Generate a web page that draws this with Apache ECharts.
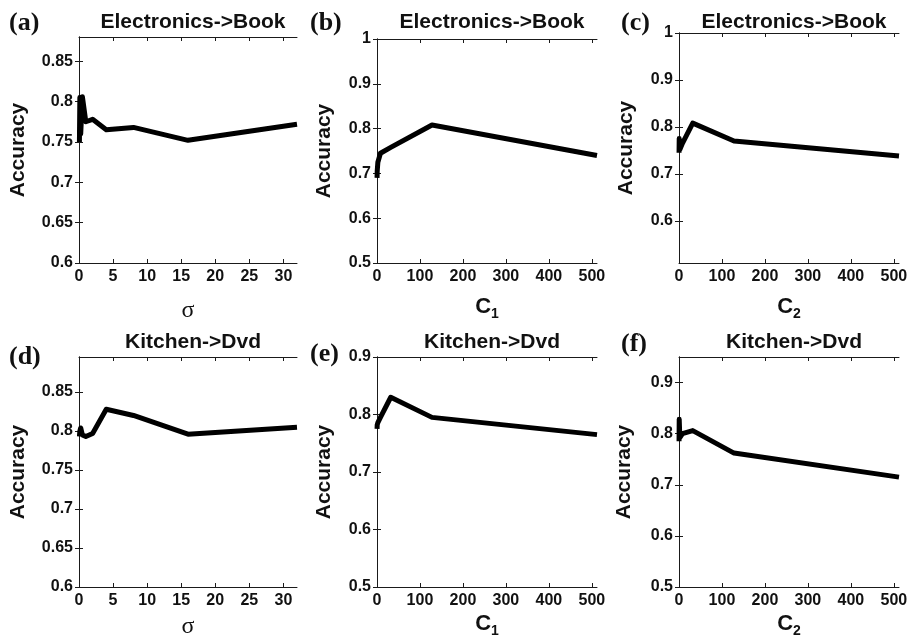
<!DOCTYPE html>
<html><head><meta charset="utf-8">
<script src="https://cdn.jsdelivr.net/npm/echarts@6/dist/echarts.min.js"></script>
<style>html,body{margin:0;padding:0;background:#fff}#c{width:917px;height:640px}</style>
</head><body><div id="c"></div>
<script>
// ---- data ----
const sigma = [0.0625, 0.125, 0.25, 0.5, 1, 2, 4, 8, 16, 32];
const cVals = [0.125, 0.5, 2, 8, 32, 128, 512];
const accA = [0.750, 0.805, 0.760, 0.806, 0.775, 0.778, 0.765, 0.768, 0.752, 0.772];
const accB = [0.690, 0.705, 0.725, 0.745, 0.758, 0.808, 0.740];
const accC = [0.745, 0.775, 0.752, 0.765, 0.808, 0.770, 0.738];
const accD = [0.793, 0.800, 0.804, 0.795, 0.793, 0.797, 0.828, 0.820, 0.796, 0.805];
const accE = [0.775, 0.782, 0.786, 0.795, 0.830, 0.795, 0.765];
const accF = [0.785, 0.828, 0.792, 0.800, 0.806, 0.762, 0.715];
const titles = ['Electronics->Book','Electronics->Book','Electronics->Book','Kitchen->Dvd','Kitchen->Dvd','Kitchen->Dvd'];
const tags = ['(a)','(b)','(c)','(d)','(e)','(f)'];
const sigmaTicks = [0, 5, 10, 15, 20, 25, 30];
const cTicks = [0, 100, 200, 300, 400, 500];
const yTicksA = [0.6, 0.65, 0.7, 0.75, 0.8, 0.85];
const yTicksB = [0.5, 0.6, 0.7, 0.8, 0.9, 1];
const yTicksC = [0.6, 0.7, 0.8, 0.9, 1];
const yTicksD = [0.6, 0.65, 0.7, 0.75, 0.8, 0.85];
const yTicksE = [0.5, 0.6, 0.7, 0.8, 0.9];
const yTicksF = [0.5, 0.6, 0.7, 0.8, 0.9];

// ---- panels ----
const panels = [
  {x: sigma, y: accA, xt: sigmaTicks, xr: [0, 32], yt: yTicksA, yr: [0.6, 0.88], name: 'sigma',
   g: {left: 79, top: 37, width: 218, height: 226}, yGap: 50, xGap: 36, tagPos: [4, 5], tTop: 7},
  {x: cVals, y: accB, xt: cTicks, xr: [0, 512], yt: yTicksB, yr: [0.5, 1], name: 'C1',
   g: {left: 377, top: 39, width: 220, height: 224}, yGap: 42, xGap: 30, tagPos: [305, 5], tTop: 7},
  {x: cVals, y: accC, xt: cTicks, xr: [0, 512], yt: yTicksC, yr: [0.51, 1], name: 'C2',
   g: {left: 679, top: 33, width: 220, height: 230}, yGap: 42, xGap: 30, tagPos: [616, 5], tTop: 7},
  {x: sigma, y: accD, xt: sigmaTicks, xr: [0, 32], yt: yTicksD, yr: [0.6, 0.895], name: 'sigma',
   g: {left: 79, top: 357, width: 218, height: 230}, yGap: 50, xGap: 28, tagPos: [4, 339], tTop: 327},
  {x: cVals, y: accE, xt: cTicks, xr: [0, 512], yt: yTicksE, yr: [0.5, 0.9], name: 'C1',
   g: {left: 377, top: 357, width: 220, height: 230}, yGap: 42, xGap: 23, tagPos: [305, 336], tTop: 327},
  {x: cVals, y: accF, xt: cTicks, xr: [0, 512], yt: yTicksF, yr: [0.5, 0.95], name: 'C2',
   g: {left: 679, top: 357, width: 220, height: 230}, yGap: 44, xGap: 23, tagPos: [616, 326], tTop: 327}
];

const FONT = 'Liberation Sans';
const lineCol = '#1a1a1a';
const grid = [], xAxis = [], yAxis = [], series = [], title = [];

function xName(n) {
  if (n === 'sigma') return 'σ';
  return '{c|C}{s|' + n.slice(1) + '}';
}

panels.forEach((p, i) => {
  grid.push(Object.assign({containLabel: false}, p.g));
  const common = {
    axisLine: {show: true, lineStyle: {color: lineCol, width: 1}},
    axisTick: {show: true, inside: true, length: 4, lineStyle: {color: lineCol}},
    splitLine: {show: false}
  };
  xAxis.push(Object.assign({}, common, {
    type: 'value', gridIndex: i, position: 'bottom', min: p.xr[0], max: p.xr[1],
    axisTick: Object.assign({}, common.axisTick, {customValues: p.xt}),
    axisLabel: {customValues: p.xt, color: '#111', fontFamily: FONT, fontWeight: 'bold', fontSize: 16, margin: 6,
      showMinLabel: true, showMaxLabel: true},
    name: xName(p.name), nameLocation: 'middle', nameGap: p.xGap,
    nameTextStyle: p.name === 'sigma'
      ? {fontFamily: 'Liberation Serif', fontSize: 24, color: '#111'}
      : {color: '#111', rich: {
          c: {fontFamily: FONT, fontWeight: 'bold', fontSize: 22, color: '#111'},
          s: {fontFamily: FONT, fontWeight: 'bold', fontSize: 14, color: '#111', padding: [14, 0, 0, 0]}}}
  }));
  xAxis.push(Object.assign({}, common, {
    type: 'value', gridIndex: i, position: 'top', min: p.xr[0], max: p.xr[1],
    axisTick: Object.assign({}, common.axisTick, {customValues: p.xt}),
    axisLabel: {show: false}
  }));
  yAxis.push(Object.assign({}, common, {
    type: 'value', gridIndex: i, position: 'left', min: p.yr[0], max: p.yr[1],
    axisTick: Object.assign({}, common.axisTick, {customValues: p.yt}),
    axisLabel: {customValues: p.yt, color: '#111', fontFamily: FONT, fontWeight: 'bold', fontSize: 16, margin: 6,
      formatter: v => String(+v.toFixed(2))},
    name: 'Accuracy', nameLocation: 'middle', nameGap: p.yGap,
    nameTextStyle: {fontFamily: FONT, fontWeight: 'bold', fontSize: 21, color: '#111'}
  }));
  yAxis.push(Object.assign({}, common, {
    type: 'value', gridIndex: i, position: 'right', min: p.yr[0], max: p.yr[1],
    axisTick: Object.assign({}, common.axisTick, {customValues: p.yt}),
    axisLabel: {show: false}
  }));
  series.push({
    type: 'line', xAxisIndex: 2 * i, yAxisIndex: 2 * i, showSymbol: false, symbol: 'none',
    lineStyle: {color: '#000', width: 5, join: 'round', cap: 'butt'},
    data: p.x.map((xv, k) => [xv, p.y[k]]), animation: false
  });
  title.push({
    text: titles[i], left: p.g.left + p.g.width / 2, top: p.tTop, textAlign: 'center',
    textStyle: {fontFamily: FONT, fontWeight: 'bold', fontSize: 21, color: '#111'}
  });
  title.push({
    text: tags[i], left: p.tagPos[0], top: p.tagPos[1],
    textStyle: {fontFamily: 'Liberation Serif', fontWeight: 'bold', fontSize: 26, color: '#111'}
  });
});

const chart = echarts.init(document.getElementById('c'), null, {renderer: 'canvas'});
chart.setOption({animation: false, backgroundColor: '#fff', title, grid, xAxis, yAxis, series});
</script></body></html>
